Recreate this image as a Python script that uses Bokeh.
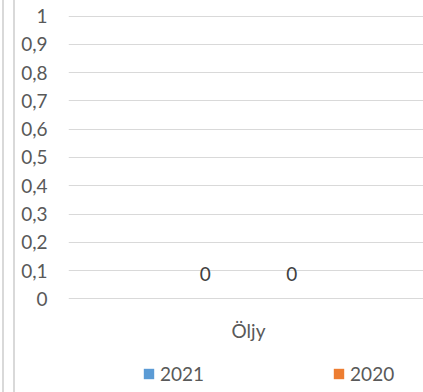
from bokeh.plotting import figure
from bokeh.models import ColumnDataSource, Range1d, FixedTicker, Legend, LegendItem
from bokeh.embed import file_html
from bokeh.resources import INLINE
from bokeh.core.properties import value

categories = ["Öljy"]
series_names = ["2021", "2020"]
values_2021 = [0]
values_2020 = [0]
y_ticks = [0, 0.1, 0.2, 0.3, 0.4, 0.5, 0.6, 0.7, 0.8, 0.9, 1]
y_tick_labels = ["0", "0,1", "0,2", "0,3", "0,4", "0,5", "0,6", "0,7", "0,8", "0,9", "1"]

FONT = "Lato"
TXT = "#595959"
colors = ["#5B9BD5", "#ED7D31"]
offsets = [-0.12, 0.12]

# frame reaches to the bottom of the canvas so that the category label and legend can sit in it
p = figure(width=423, height=392, output_backend="svg", toolbar_location=None,
           x_range=Range1d(-0.5, 0.486), y_range=Range1d(-0.331, 1.002),
           min_border_left=68, min_border_right=0, min_border_top=15, min_border_bottom=0)
p.outline_line_color = None
p.border_fill_alpha = 0
# faint chart-border lines at the left edge (page styling)
p.styles = {
    "background": ("linear-gradient(to right, #ffffff 0px, #ffffff 2px, #d9d9d9 2px, #d9d9d9 4px, "
                   "#ffffff 4px, #ffffff 13px, #d9d9d9 13px, #d9d9d9 15px, #ffffff 15px, #ffffff 100%)")
}

renderers = []
for name, vals, col, off in zip(series_names, [values_2021, values_2020], colors, offsets):
    xs = [i + off for i in range(len(categories))]
    src = ColumnDataSource(dict(x=xs, top=vals, lab=[str(v) for v in vals]))
    r = p.vbar(x="x", top="top", width=0.22, source=src, fill_color=col, line_color=None)
    renderers.append((name, r))
    p.text(x="x", y="top", text="lab", source=src, text_align="center", text_baseline="middle",
           y_offset=-25, text_font=value(FONT), text_font_size="19px", text_color="#404040")

# category labels (x axis)
cat_src = ColumnDataSource(dict(x=list(range(len(categories))), y=[0] * len(categories), lab=categories))
p.text(x="x", y="y", text="lab", source=cat_src, text_align="center", text_baseline="middle",
       y_offset=32, text_font=value(FONT), text_font_size="19px", text_color=TXT)
p.xaxis.visible = False

# y axis
p.yaxis.ticker = FixedTicker(ticks=y_ticks)
p.yaxis.major_label_overrides = {t: l for t, l in zip(y_ticks, y_tick_labels)}
p.yaxis.axis_line_color = None
p.yaxis.major_tick_line_color = None
p.yaxis.minor_tick_line_color = None
p.yaxis.major_tick_out = 0
p.yaxis.major_tick_in = 0
p.yaxis.major_label_standoff = 21
p.yaxis.major_label_text_font = FONT
p.yaxis.major_label_text_font_size = "19px"
p.yaxis.major_label_text_color = TXT

p.xgrid.grid_line_color = None
p.ygrid.grid_line_color = "#d9d9d9"
p.ygrid.grid_line_width = 1

legend = Legend(items=[LegendItem(label=n, renderers=[r]) for n, r in renderers],
                orientation="horizontal", location=(74, 7),
                glyph_width=13, glyph_height=13, label_standoff=5, spacing=128,
                padding=0, margin=0, border_line_color=None, background_fill_alpha=0,
                label_text_font=FONT, label_text_font_size="19px", label_text_color=TXT,
                label_height=13)
p.add_layout(legend)

open("out.html", "w").write(file_html(p, INLINE))
